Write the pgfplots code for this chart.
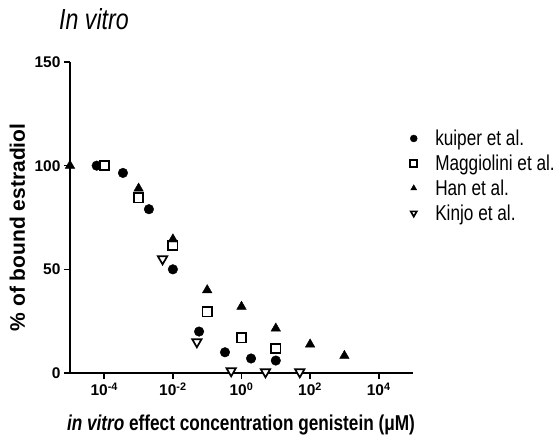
\documentclass[border=0pt]{standalone}
\usepackage{pgfplots}
\pgfplotsset{compat=1.18}
\usepackage{graphicx}
\usepackage{fontspec}
\setmainfont{Liberation Sans}
\newfontfamily\condensed[FakeStretch=0.8]{Liberation Sans}
\begin{document}
\begin{tikzpicture}
\path[use as bounding box] (-70pt,-64pt) rectangle (485pt,373pt);
\begin{axis}[
  at={(0pt,0pt)}, anchor=south west,
  scale only axis, width=343pt, height=311pt,
  xmode=log, xmin=1e-5, xmax=1e5, ymin=0, ymax=150,
  axis x line*=bottom, axis y line*=left,
  axis line style={-, line width=1.6pt},
  every tick/.style={black, line width=1.6pt},
  major tick length=6pt, tick align=outside,
  xminorticks=false, yminorticks=false,
  xtick={1e-4,1e-2,1,1e2,1e4},
  xticklabels={10\textsuperscript{-4},10\textsuperscript{-2},10\textsuperscript{0},10\textsuperscript{2},10\textsuperscript{4}},
  ytick={0,50,100,150},
  yticklabels={0,50,100,150},
  ticklabel style={font=\bfseries\fontsize{15.5}{17}\selectfont},
  clip=false,
  xlabel={\textit{in vitro} effect concentration genistein (μM)},
  xlabel style={font=\condensed\bfseries\fontsize{21.5}{24}\selectfont, at={(axis description cs:0.4985,-0.1833)}, anchor=base},
  ylabel={\% of bound estradiol},
  ylabel style={font=\bfseries\fontsize{21}{24}\selectfont, at={(axis description cs:-0.1312,0.468)}, anchor=base},
  legend cell align=left,
  legend style={draw=none, fill=none, inner sep=0pt, outer sep=0pt,
    at={(axis description cs:0.992,0.788)}, anchor=north west,
    font=\condensed\fontsize{21.5}{23}\selectfont,
    row sep=3.8pt, column sep=16pt},
  legend image post style={mark size=3.5pt},
]
\addplot[only marks, mark=*, mark size=4.8pt, black, fill=black] coordinates {
 (6.0e-5,100) (3.5e-4,96.5) (2.0e-3,79) (1e-2,50) (0.058,20) (0.33,10) (1.9,7) (10,6)};
\addlegendentry{kuiper et al.}
\addplot[only marks, mark=square*, mark size=4.6pt, black, mark options={fill=white, line width=1.7pt}] coordinates {
 (1e-4,100) (1e-3,84.5) (1e-2,61.5) (0.1,29.5) (1,17) (10,11.8)};
\addlegendentry{Maggiolini et al.}
\addplot[only marks, mark=triangle*, mark size=5.5pt, black, fill=black] coordinates {
 (1e-5,100) (1e-3,89) (1e-2,64.5) (0.1,40) (1,32) (10,21.5) (100,13.8) (1000,8.3)};
\addlegendentry{Han et al.}
\addplot[only marks, mark=triangle*, mark size=5.4pt, black, mark options={rotate=180, fill=white, line width=1.7pt}] coordinates {
 (5e-3,55) (0.05,15) (0.5,1) (5,0.5) (50,0.5)};
\addlegendentry{Kinjo et al.}
\end{axis}
\node[anchor=base west, inner sep=0pt] at (-11pt,343pt) {\condensed\itshape\fontsize{29}{32}\selectfont In vitro};
\end{tikzpicture}
\end{document}
